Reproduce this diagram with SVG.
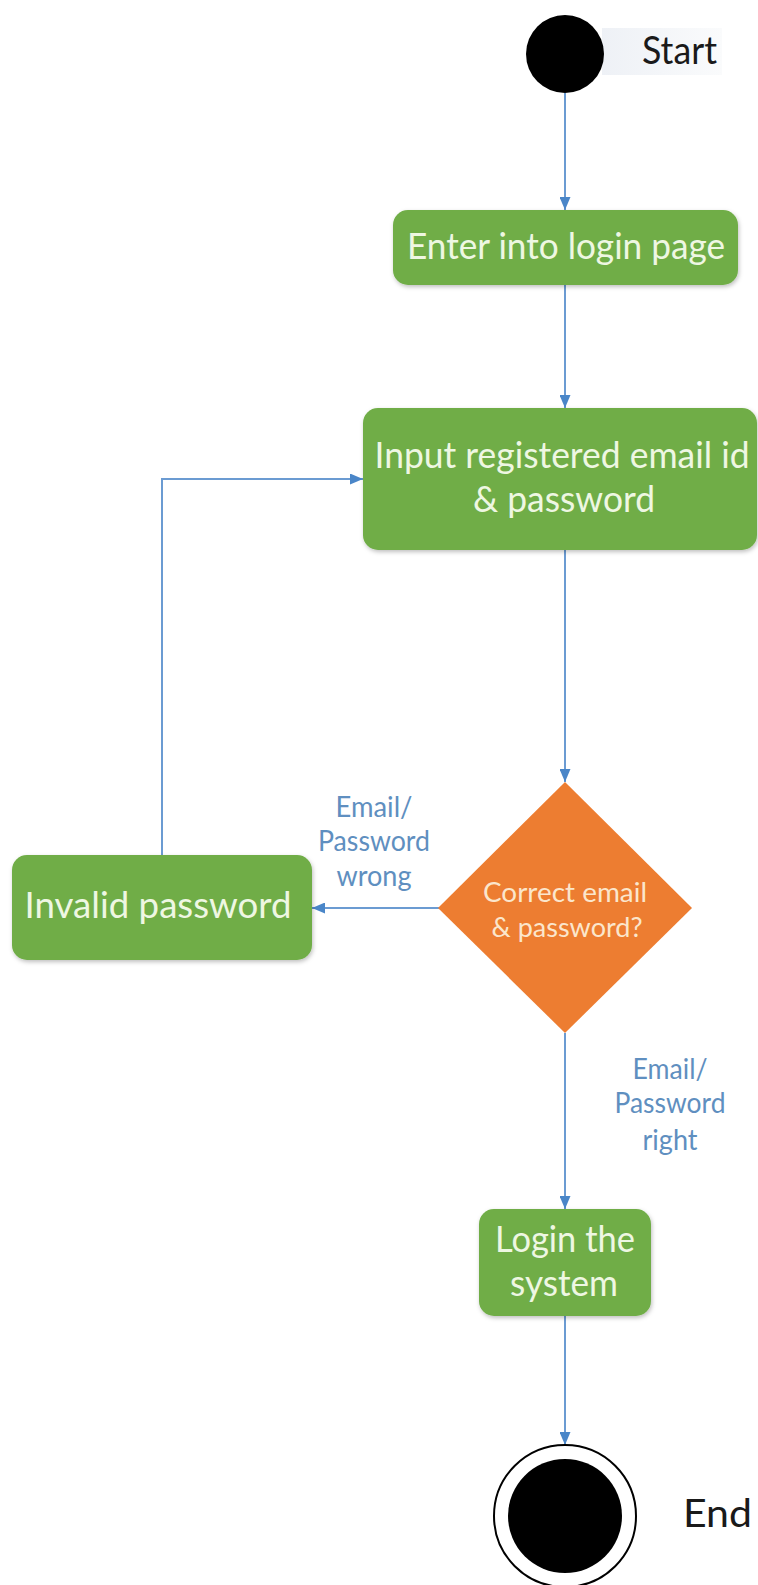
<svg xmlns="http://www.w3.org/2000/svg" width="758" height="1585" viewBox="0 0 758 1585">
<defs>
<style>
.box{fill:#70ad47;filter:url(#sh)}
.bt{font-family:Lato,"Open Sans","Liberation Sans",sans-serif;fill:#eef7e2;text-anchor:middle}
.lbl{font-family:Lato,"Open Sans","Liberation Sans",sans-serif;fill:#5f8fc0;font-size:28px;text-anchor:middle}
.dark{font-family:Lato,"Open Sans","Liberation Sans",sans-serif;fill:#1a1a1a;font-size:38px}
.con{fill:none;stroke:#6b9bd2;stroke-width:2;marker-end:url(#ah)}
</style>
<marker id="ah" markerUnits="userSpaceOnUse" markerWidth="13" markerHeight="11" refX="13" refY="5.5" orient="auto">
<path d="M0,0 L13,5.5 L0,11 z" fill="#4a86c8"/>
</marker>
<filter id="sh" x="-10%" y="-10%" width="120%" height="130%">
<feDropShadow dx="1" dy="2" stdDeviation="2" flood-color="#000" flood-opacity="0.25"/>
</filter>
<linearGradient id="sg" x1="0" y1="0" x2="1" y2="0">
<stop offset="0" stop-color="#eef1f6"/>
<stop offset="1" stop-color="#fafbfc"/>
</linearGradient>
</defs>
<rect width="758" height="1585" fill="#ffffff"/>

<g id="connectors">
<path class="con" d="M565,93 L565,210"/>
<path class="con" d="M565,285 L565,408"/>
<path class="con" d="M565,550 L565,782"/>
<path class="con" d="M440,908 L312,908"/>
<path class="con" d="M162,855 L162,479 L363,479"/>
<path class="con" d="M565,1033 L565,1209"/>
<path class="con" d="M565,1316 L565,1445"/>
<text class="lbl" x="374" y="817" textLength="77" lengthAdjust="spacingAndGlyphs">Email/</text>
<text class="lbl" x="374" y="851" textLength="112" lengthAdjust="spacingAndGlyphs">Password</text>
<text class="lbl" x="374" y="886" textLength="75" lengthAdjust="spacingAndGlyphs">wrong</text>
<text class="lbl" x="670" y="1079" textLength="75" lengthAdjust="spacingAndGlyphs">Email/</text>
<text class="lbl" x="670" y="1113" textLength="111" lengthAdjust="spacingAndGlyphs">Password</text>
<text class="lbl" x="670" y="1150" textLength="55" lengthAdjust="spacingAndGlyphs">right</text>
</g>

<g id="start">
<rect x="602" y="28" width="120" height="47" fill="url(#sg)"/>
<circle cx="565" cy="54" r="39" fill="#000"/>
<text class="dark" x="642" y="64" textLength="75" lengthAdjust="spacingAndGlyphs">Start</text>
</g>

<g id="enter">
<rect class="box" x="393" y="210" width="345" height="75" rx="15"/>
<text class="bt" x="566" y="259" font-size="37" textLength="318" lengthAdjust="spacingAndGlyphs">Enter into login page</text>
</g>

<g id="input">
<rect class="box" x="363" y="408" width="394" height="142" rx="15"/>
<text class="bt" x="562" y="468" font-size="37" textLength="375" lengthAdjust="spacingAndGlyphs">Input registered email id</text>
<text class="bt" x="564" y="512" font-size="37" textLength="182" lengthAdjust="spacingAndGlyphs">&amp; password</text>
</g>

<g id="decision">
<polygon points="565,782 692,908 565,1033 438,908" fill="#ed7d31"/>
<text class="bt" x="565" y="902" font-size="27" style="fill:#fbe6cc" textLength="164" lengthAdjust="spacingAndGlyphs">Correct email</text>
<text class="bt" x="567" y="937" font-size="27" style="fill:#fbe6cc" textLength="151" lengthAdjust="spacingAndGlyphs">&amp; password?</text>
</g>

<g id="invalid">
<rect class="box" x="12" y="855" width="300" height="105" rx="15"/>
<text class="bt" x="158" y="918" font-size="37" textLength="267" lengthAdjust="spacingAndGlyphs">Invalid password</text>
</g>

<g id="login">
<rect class="box" x="479" y="1209" width="172" height="107" rx="15"/>
<text class="bt" x="565" y="1252" font-size="37" textLength="140" lengthAdjust="spacingAndGlyphs">Login the</text>
<text class="bt" x="564" y="1296" font-size="37" textLength="108" lengthAdjust="spacingAndGlyphs">system</text>
</g>

<g id="end">
<circle cx="565" cy="1516" r="71" fill="#fff" stroke="#000" stroke-width="2"/>
<circle cx="565" cy="1516" r="57" fill="#000"/>
<text class="dark" x="683" y="1527" textLength="69" lengthAdjust="spacingAndGlyphs">End</text>
</g>
</svg>
